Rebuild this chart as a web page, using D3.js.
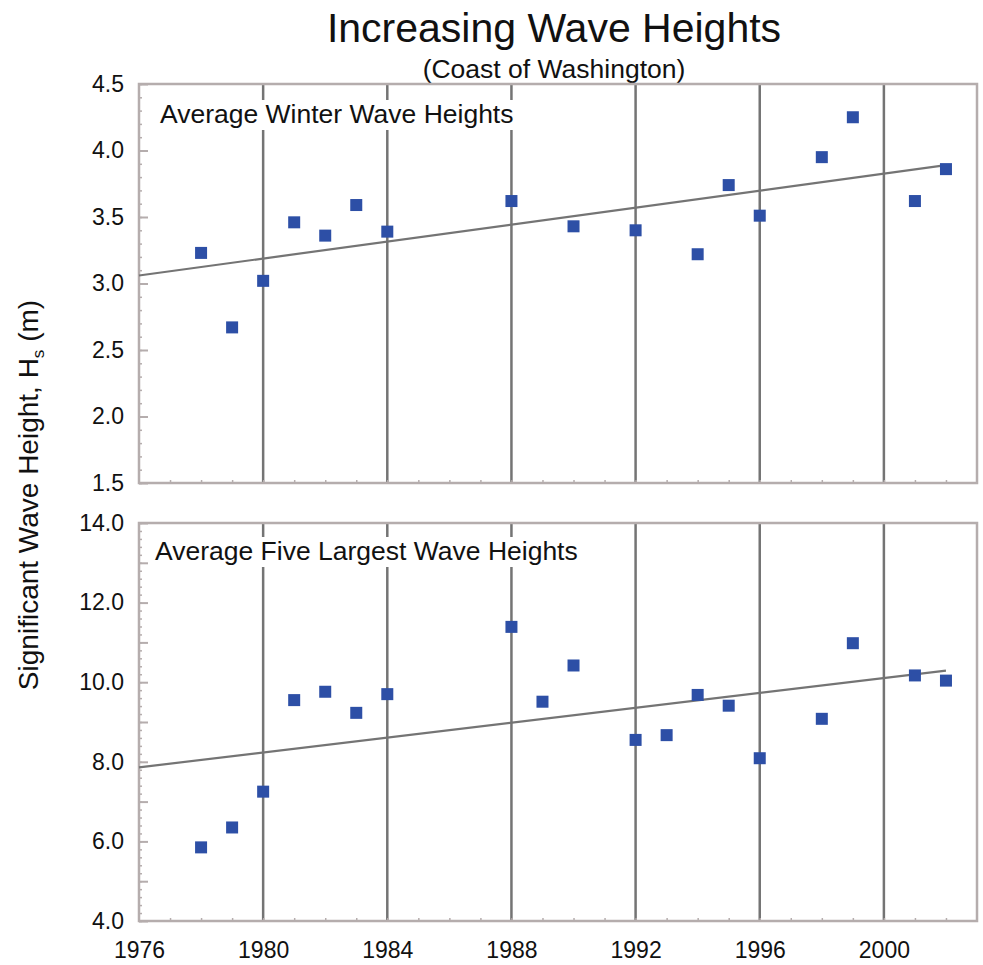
<!DOCTYPE html>
<html>
<head>
<meta charset="utf-8">
<script src="https://cdn.jsdelivr.net/npm/d3@7"></script>
<style>
  body { margin: 0; background: #fff; }
  text { font-family: Arial, "Liberation Sans", sans-serif; fill: #111; }
</style>
</head>
<body>
<div id="chart"></div>
<script>
// values
const winterYears = [1978, 1979, 1980, 1981, 1982, 1983, 1984, 1988, 1990, 1992, 1994, 1995, 1996, 1998, 1999, 2001, 2002];
const winterHeights = [3.23, 2.67, 3.02, 3.46, 3.36, 3.59, 3.39, 3.62, 3.43, 3.40, 3.22, 3.74, 3.51, 3.95, 4.25, 3.62, 3.86];

const largestYears = [1978, 1979, 1980, 1981, 1982, 1983, 1984, 1988, 1989, 1990, 1992, 1993, 1994, 1995, 1996, 1998, 1999, 2001, 2002];
const largestHeights = [5.85, 6.35, 7.25, 9.55, 9.76, 9.23, 9.70, 11.39, 9.51, 10.42, 8.55, 8.67, 9.68, 9.41, 8.09, 9.08, 10.98, 10.17, 10.04];

// trend line end points
const trendYears = [1976, 2002];
const winterTrend = [3.06, 3.89];
const largestTrend = [7.86, 10.29];

const gridYears = [1980, 1984, 1988, 1992, 1996, 2000];
const xLabelYears = [1976, 1980, 1984, 1988, 1992, 1996, 2000];

const width = 983, height = 965;
const svg = d3.select("#chart").append("svg")
    .attr("width", width)
    .attr("height", height);

const x = d3.scaleLinear().domain([1976, 2003]).range([139, 977]);

const frameColor = "#b5adad";
const gridColor = "#747474";
const markColor = "#2d4fa6";

svg.append("text")
    .attr("x", 554).attr("y", 42)
    .attr("text-anchor", "middle")
    .attr("font-size", 41)
    .text("Increasing Wave Heights");

svg.append("text")
    .attr("x", 554).attr("y", 78)
    .attr("text-anchor", "middle")
    .attr("font-size", 26.5)
    .text("(Coast of Washington)");

// y axis title
const yt = svg.append("text")
    .attr("transform", "translate(38,495) rotate(-90)")
    .attr("text-anchor", "middle")
    .attr("font-size", 28);
yt.append("tspan").text("Significant Wave Height, H");
yt.append("tspan").attr("font-size", 17).attr("dy", 6).text("s");
yt.append("tspan").attr("dy", -6).text(" (m)");

function panel(cfg) {
    const y = d3.scaleLinear().domain(cfg.domain).range([cfg.bottom, cfg.top]);
    const g = svg.append("g");

    // vertical grid lines
    g.selectAll(".grid")
        .data(gridYears)
        .enter().append("line")
        .attr("x1", d => x(d)).attr("x2", d => x(d))
        .attr("y1", cfg.top).attr("y2", cfg.bottom)
        .attr("stroke", gridColor)
        .attr("stroke-width", 2.5);

    // label with white box knocking out the grid
    const lab = g.append("text")
        .attr("x", cfg.labelX).attr("y", cfg.labelY)
        .attr("font-size", 26.5)
        .text(cfg.label);
    const bb = lab.node().getBBox();
    g.insert("rect", "text")
        .attr("x", bb.x - 5).attr("y", cfg.labelY - 23)
        .attr("width", bb.width + 10).attr("height", 30)
        .attr("fill", "#fff");

    // minor y ticks
    g.append("g")
        .attr("transform", `translate(${x.range()[0]},0)`)
        .call(d3.axisLeft(y).tickValues(cfg.minor).tickSize(-3).tickFormat(""))
        .call(a => a.select(".domain").remove())
        .call(a => a.selectAll("line").attr("stroke", frameColor).attr("stroke-width", 1.5));

    // major y ticks
    g.append("g")
        .attr("transform", `translate(${x.range()[0]},0)`)
        .call(d3.axisLeft(y).tickValues(cfg.major).tickSize(-9).tickFormat(""))
        .call(a => a.select(".domain").remove())
        .call(a => a.selectAll("line").attr("stroke", frameColor).attr("stroke-width", 2));

    // y labels
    g.append("g")
        .attr("transform", `translate(${x.range()[0]},0)`)
        .call(d3.axisLeft(y).tickValues(cfg.labels).tickSize(0).tickPadding(15).tickFormat(d3.format(".1f")))
        .call(a => a.select(".domain").remove())
        .call(a => a.selectAll("text").attr("font-size", 23).attr("font-family", "Arial, 'Liberation Sans', sans-serif").attr("fill", "#111"));

    // minor x ticks at each year
    g.append("g")
        .attr("transform", `translate(0,${cfg.bottom})`)
        .call(d3.axisBottom(x).tickValues(d3.range(1977, 2003)).tickSize(-3).tickFormat(""))
        .call(a => a.select(".domain").remove())
        .call(a => a.selectAll("line").attr("stroke", frameColor).attr("stroke-width", 1.5));

    // frame
    g.append("rect")
        .attr("x", x.range()[0]).attr("y", cfg.top)
        .attr("width", x.range()[1] - x.range()[0])
        .attr("height", cfg.bottom - cfg.top)
        .attr("fill", "none")
        .attr("stroke", frameColor)
        .attr("stroke-width", 2.5);

    // trend line
    g.append("line")
        .attr("x1", x(trendYears[0])).attr("y1", y(cfg.trend[0]))
        .attr("x2", x(trendYears[1])).attr("y2", y(cfg.trend[1]))
        .attr("stroke", gridColor)
        .attr("stroke-width", 2.2);

    // squares
    const s = 12;
    g.selectAll(".pt")
        .data(cfg.years.map((yr, i) => [yr, cfg.values[i]]))
        .enter().append("rect")
        .attr("x", d => x(d[0]) - s / 2)
        .attr("y", d => y(d[1]) - s / 2)
        .attr("width", s).attr("height", s)
        .attr("fill", markColor);

    return y;
}

panel({
    domain: [1.5, 4.5], top: 84, bottom: 483,
    major: d3.range(1.5, 4.51, 0.5),
    minor: d3.range(15, 46).map(v => v / 10),
    labels: d3.range(1.5, 4.51, 0.5),
    label: "Average Winter Wave Heights", labelX: 160, labelY: 123,
    years: winterYears, values: winterHeights, trend: winterTrend
});

panel({
    domain: [4, 14], top: 523, bottom: 921,
    major: d3.range(4, 14.01, 1),
    minor: d3.range(20, 71).map(v => v / 5),
    labels: d3.range(4, 14.01, 2),
    label: "Average Five Largest Wave Heights", labelX: 155, labelY: 560,
    years: largestYears, values: largestHeights, trend: largestTrend
});

// year labels under the lower panel
svg.append("g")
    .attr("transform", "translate(0,921)")
    .call(d3.axisBottom(x).tickValues(xLabelYears).tickSize(0).tickPadding(21).tickFormat(d3.format("d")))
    .call(a => a.select(".domain").remove())
    .call(a => a.selectAll("text").attr("font-size", 23).attr("font-family", "Arial, 'Liberation Sans', sans-serif").attr("fill", "#111"));
</script>
</body>
</html>
